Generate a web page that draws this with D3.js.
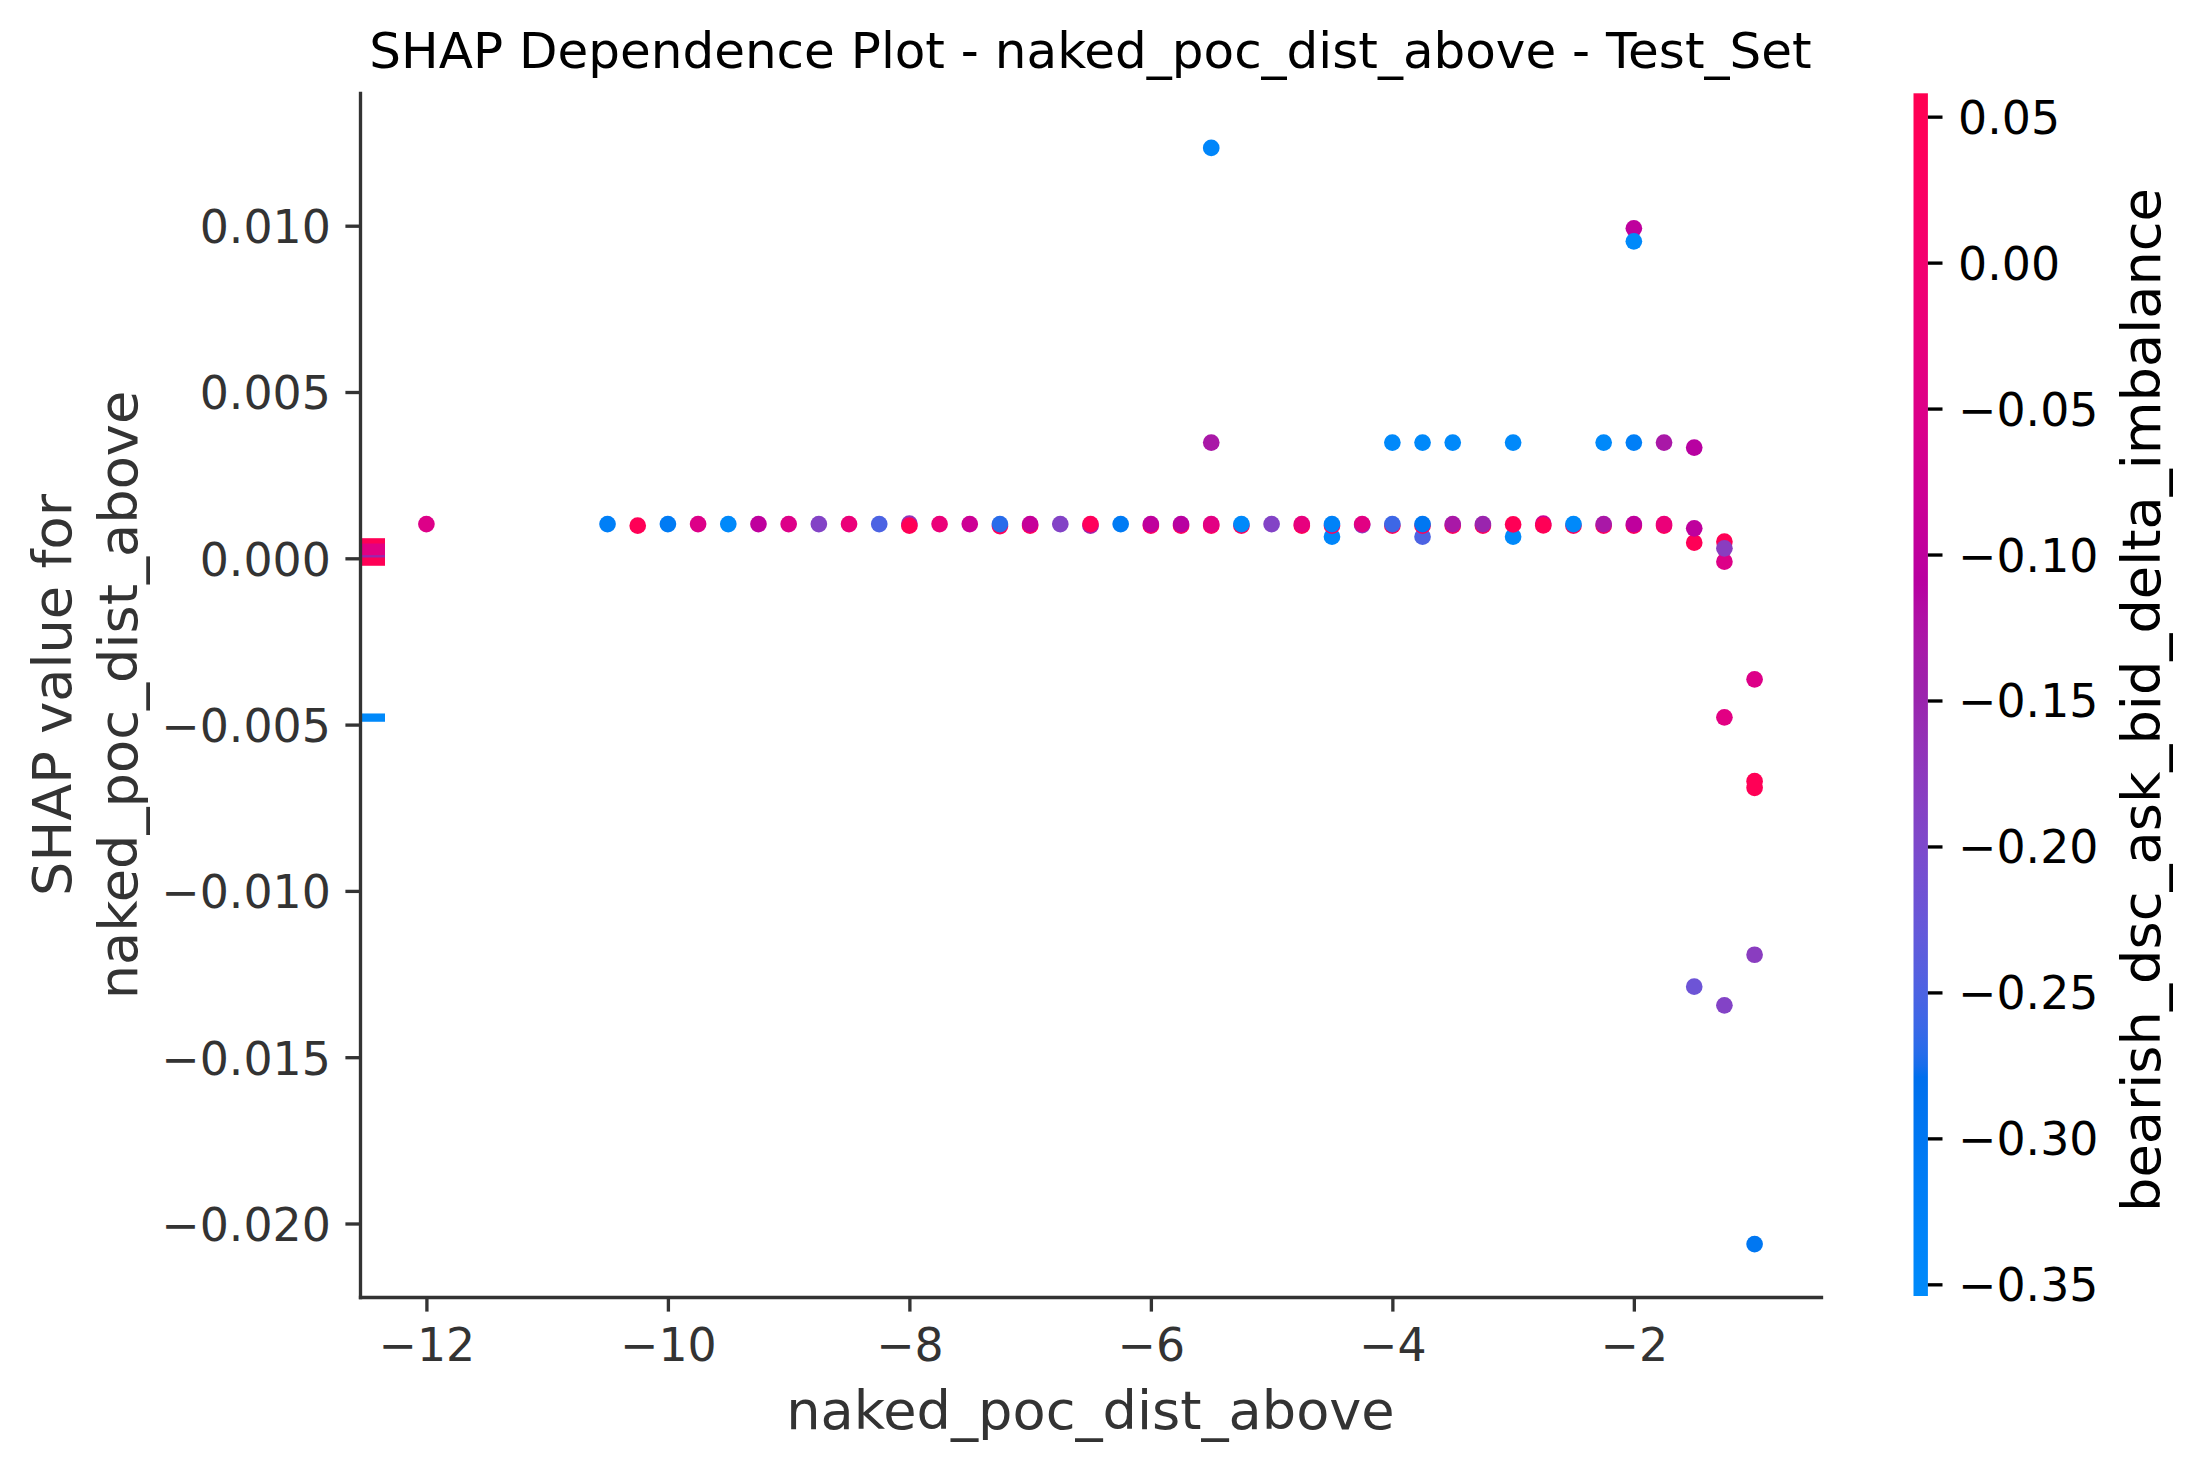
<!DOCTYPE html>
<meta charset="utf-8">
<style>
body { margin: 0; background: #fff; }
svg { display: block; font-family: "DejaVu Sans", sans-serif; }
</style>
<body>
<svg id="chart" width="2197" height="1471"></svg>
<script src="https://cdn.jsdelivr.net/npm/d3@7"></script>
<script>

// feature value, shap value and interaction (colour) value of each dot, in drawing order
var featureVals = [
  -12,
  -10.5, -10.25, -10, -9.75, -9.5, -9.25, -9, -8.75, -8.5, -8.25,
  -8, -8,
  -7.75, -7.5,
  -7.25, -7.25,
  -7, -7,
  -6.75,
  -6.5, -6.5,
  -6.25,
  -6, -6,
  -5.75, -5.75,
  -5.5, -5.5, -5.5, -5.5,
  -5.25, -5.25,
  -5,
  -4.75, -4.75,
  -4.5, -4.5, -4.5,
  -4.25, -4.25,
  -4, -4, -4,
  -3.75, -3.75, -3.75, -3.75,
  -3.5, -3.5, -3.5,
  -3.25, -3.25,
  -3, -3, -3,
  -2.75, -2.75,
  -2.5, -2.5,
  -2.25, -2.25, -2.25,
  -2, -2, -2, -2, -2,
  -1.75, -1.75, -1.75,
  -1.5, -1.5, -1.5, -1.5,
  -1.25, -1.25, -1.25, -1.25, -1.25,
  -1, -1, -1, -1, -1
];

var shapVals = [
  0.00103,
  0.00103, 0.00098, 0.00103, 0.00103, 0.00103, 0.00103, 0.00103, 0.00103, 0.00103, 0.00103,
  0.00104, 0.00098,
  0.00103, 0.00103,
  0.00097, 0.00103,
  0.00098, 0.00103,
  0.00103,
  0.00098, 0.00103,
  0.00103,
  0.00098, 0.00103,
  0.00098, 0.00103,
  0.00098, 0.00103, 0.00348, 0.01234,
  0.00098, 0.00103,
  0.00103,
  0.00098, 0.00103,
  0.00065, 0.00098, 0.00103,
  0.00100, 0.00103,
  0.00098, 0.00103, 0.00348,
  0.00065, 0.00098, 0.00103, 0.00348,
  0.00098, 0.00103, 0.00348,
  0.00098, 0.00103,
  0.00065, 0.00102, 0.00348,
  0.00104, 0.00099,
  0.00098, 0.00103,
  0.00098, 0.00103, 0.00348,
  0.00098, 0.00103, 0.00348, 0.00992, 0.00953,
  0.00098, 0.00103, 0.00348,
  0.00047, 0.00090, 0.00333, -0.01288,
  0.00050, -0.00010, 0.00030, -0.00478, -0.01344,
  -0.00364, -0.00670, -0.00690, -0.01192, -0.02062
];

var interactVals = [
  -0.05,
  -0.32, 0.05, -0.31, -0.05, -0.35, -0.10, -0.05, -0.19, -0.02, -0.25,
  -0.17, 0.05,
  -0.02, -0.08,
  0.04, -0.27,
  0.04, -0.09,
  -0.19,
  -0.15, 0.04,
  -0.31,
  0.03, -0.10,
  0.04, -0.11,
  0.03, -0.04, -0.13, -0.34,
  0.04, -0.35,
  -0.19,
  0.05, -0.03,
  -0.34, 0.04, -0.33,
  -0.18, -0.04,
  0.04, -0.26, -0.35,
  -0.25, 0.04, -0.30, -0.35,
  0.04, -0.13, -0.35,
  0.04, -0.15,
  -0.35, 0.05, -0.35,
  -0.08, 0.05,
  0.04, -0.35,
  0.04, -0.13, -0.35,
  0.04, -0.10, -0.32, -0.10, -0.35,
  0.04, -0.02, -0.13,
  0.05, -0.10, -0.11, -0.22,
  0.05, -0.05, -0.18, -0.04, -0.19,
  -0.05, 0.05, 0.05, -0.18, -0.30
];

// rows with a missing feature value, drawn as ticks at the left edge
var nanShapVals     = [0.00048, 0.00003, 0.00032, 0.00022, -0.00010, -0.00479];
var nanInteractVals = [0.05, -0.15, -0.04, -0.04, 0.05, -0.35];

var xTicks = [-12, -10, -8, -6, -4, -2];
var yTicks = [-0.020, -0.015, -0.010, -0.005, 0.000, 0.005, 0.010];
var cTicks = [-0.35, -0.30, -0.25, -0.20, -0.15, -0.10, -0.05, 0.00, 0.05];

var titleText = "SHAP Dependence Plot - naked_poc_dist_above - Test_Set";
var xLabel = "naked_poc_dist_above";
var yLabelLines = ["SHAP value for", "naked_poc_dist_above"];
var cLabel = "bearish_dsc_ask_bid_delta_imbalance";

// layout (pixels, 300 dpi figure)
var plotLeft = 360, plotRight = 1821, plotTop = 93, plotBottom = 1297;
var cbLeft = 1913.5, cbWidth = 14.4, cbTop = 93.3, cbBottom = 1296;
var tickLen = 14.6, lw = 3.33;
var tickFont = 45.8, labelFont = 54.2, titleFont = 50;
var grey = "#333333";

// shap's red_blue map: Lch path with lightness dipping in the middle (D65 Lab)
function lchToRgb(l, c, h) {
  var a = c * Math.cos(h), b = c * Math.sin(h);
  var fy = (l + 16) / 116, fx = a / 500 + fy, fz = fy - b / 200;
  function inv(t) { return t > 0.2068966 ? t * t * t : (t - 16 / 116) / 7.787; }
  var X = inv(fx) * 0.95047, Y = inv(fy), Z = inv(fz) * 1.08883;
  var r = 3.24048134 * X - 1.53715152 * Y - 0.49853633 * Z;
  var g = -0.96925495 * X + 1.87599 * Y + 0.04155593 * Z;
  var bl = 0.05564664 * X - 0.20404134 * Y + 1.05731107 * Z;
  function gam(v) {
    v = v > 0.0031308 ? 1.055 * Math.pow(v, 1 / 2.4) - 0.055 : 12.92 * v;
    return Math.round(255 * Math.max(0, Math.min(1, v)));
  }
  return d3.rgb(gam(r), gam(g), gam(bl)).formatHex();
}
var nsteps = 100, mapPos = [], mapCols = [];
for (var i = 0; i < nsteps; i++) {
  var t = i / (nsteps - 1);
  var l = i < 50 ? 54 + (40 - 54) * i / 49 : 40 + (54 - 40) * (i - 50) / 49;
  var cc = 70 + (90 - 70) * t;
  var hh = 4.6588 + (0.35470565 + 2 * Math.PI - 4.6588) * t;
  mapPos.push(t);
  mapCols.push(lchToRgb(l, cc, hh));
}
var redBlue = d3.scaleLinear().domain(mapPos).range(mapCols).interpolate(d3.interpolateRgb);

var cMin = -0.354, cMax = 0.058;
var x = d3.scaleLinear().domain([-12.55, -0.45]).range([plotLeft, plotRight]);
var y = d3.scaleLinear().domain([-0.02221, 0.01399]).range([plotBottom, plotTop]);
var c = d3.scaleLinear().domain([cMin, cMax]).range([cbBottom, cbTop]);
var colour = function(v) { return redBlue((v - cMin) / (cMax - cMin)); };

var svg = d3.select("#chart");
svg.append("rect").attr("width", 2197).attr("height", 1471).attr("fill", "#fff");

// dots
var pts = featureVals.map(function(d, i) { return {x: d, y: shapVals[i], c: interactVals[i]}; });
svg.append("g")
  .selectAll("circle")
  .data(pts)
  .enter().append("circle")
    .attr("cx", function(d) { return x(d.x); })
    .attr("cy", function(d) { return y(d.y); })
    .attr("r", 8.35)
    .attr("fill", function(d) { return colour(d.c); });

// NaN ticks along the left edge
svg.append("g")
  .selectAll("line")
  .data(nanShapVals)
  .enter().append("line")
    .attr("x1", x(-12.55))
    .attr("x2", x(-12.55) + 25)
    .attr("y1", function(d) { return y(d); })
    .attr("y2", function(d) { return y(d); })
    .attr("stroke-width", 8.3)
    .attr("stroke", function(d, i) { return colour(nanInteractVals[i]); });

// axes
var xAxis = svg.append("g")
  .attr("transform", "translate(0," + plotBottom + ")")
  .call(d3.axisBottom(x).tickValues(xTicks).tickFormat(d3.format("d"))
        .tickSize(tickLen).tickSizeOuter(0).tickPadding(tickLen));
var yAxis = svg.append("g")
  .attr("transform", "translate(" + plotLeft + ",0)")
  .call(d3.axisLeft(y).tickValues(yTicks).tickFormat(d3.format(".3f"))
        .tickSize(tickLen).tickSizeOuter(0).tickPadding(tickLen));

[xAxis, yAxis].forEach(function(a) {
  a.select(".domain").attr("stroke", grey).attr("stroke-width", lw).attr("stroke-linecap", "square");
  a.selectAll(".tick line").attr("stroke", grey).attr("stroke-width", lw);
  a.selectAll(".tick text").attr("fill", grey).attr("font-size", tickFont)
    .attr("font-family", "DejaVu Sans");
});
xAxis.selectAll(".tick text").attr("dy", "0.76em");
yAxis.selectAll(".tick text").attr("dy", "0.37em");

// colour bar
var grad = svg.append("defs").append("linearGradient")
  .attr("id", "cbar").attr("x1", 0).attr("x2", 0).attr("y1", 1).attr("y2", 0);
mapPos.forEach(function(t, i) {
  grad.append("stop").attr("offset", t).attr("stop-color", mapCols[i]);
});
svg.append("rect")
  .attr("x", cbLeft).attr("y", c(cMax))
  .attr("width", cbWidth).attr("height", c(cMin) - c(cMax))
  .attr("fill", "url(#cbar)");

var cAxis = svg.append("g")
  .attr("transform", "translate(" + (cbLeft + cbWidth) + ",0)")
  .call(d3.axisRight(c).tickValues(cTicks).tickFormat(d3.format(".2f"))
        .tickSize(tickLen).tickSizeOuter(0).tickPadding(tickLen + 1));
cAxis.select(".domain").remove();
cAxis.selectAll(".tick line").attr("stroke", "#000").attr("stroke-width", lw);
cAxis.selectAll(".tick text").attr("fill", "#000").attr("font-size", tickFont)
  .attr("font-family", "DejaVu Sans").attr("dy", "0.36em");

// labels
svg.append("text")
  .attr("x", (plotLeft + plotRight) / 2).attr("y", 68)
  .attr("text-anchor", "middle").attr("font-size", titleFont).attr("fill", "#000")
  .text(titleText);

svg.append("text")
  .attr("x", (plotLeft + plotRight) / 2).attr("y", 1429)
  .attr("text-anchor", "middle").attr("font-size", labelFont).attr("fill", grey)
  .text(xLabel);

var yl = svg.append("text")
  .attr("transform", "translate(71," + (plotTop + plotBottom) / 2 + ") rotate(-90)")
  .attr("text-anchor", "middle").attr("font-size", labelFont).attr("fill", grey);
yl.selectAll("tspan")
  .data(yLabelLines)
  .enter().append("tspan")
    .attr("x", 0)
    .attr("y", function(d, i) { return i * 65.5; })
    .text(function(d) { return d; });

svg.append("text")
  .attr("transform", "translate(2160,700) rotate(-90)")
  .attr("text-anchor", "middle").attr("font-size", labelFont).attr("fill", "#000")
  .text(cLabel);

</script>
</body>
